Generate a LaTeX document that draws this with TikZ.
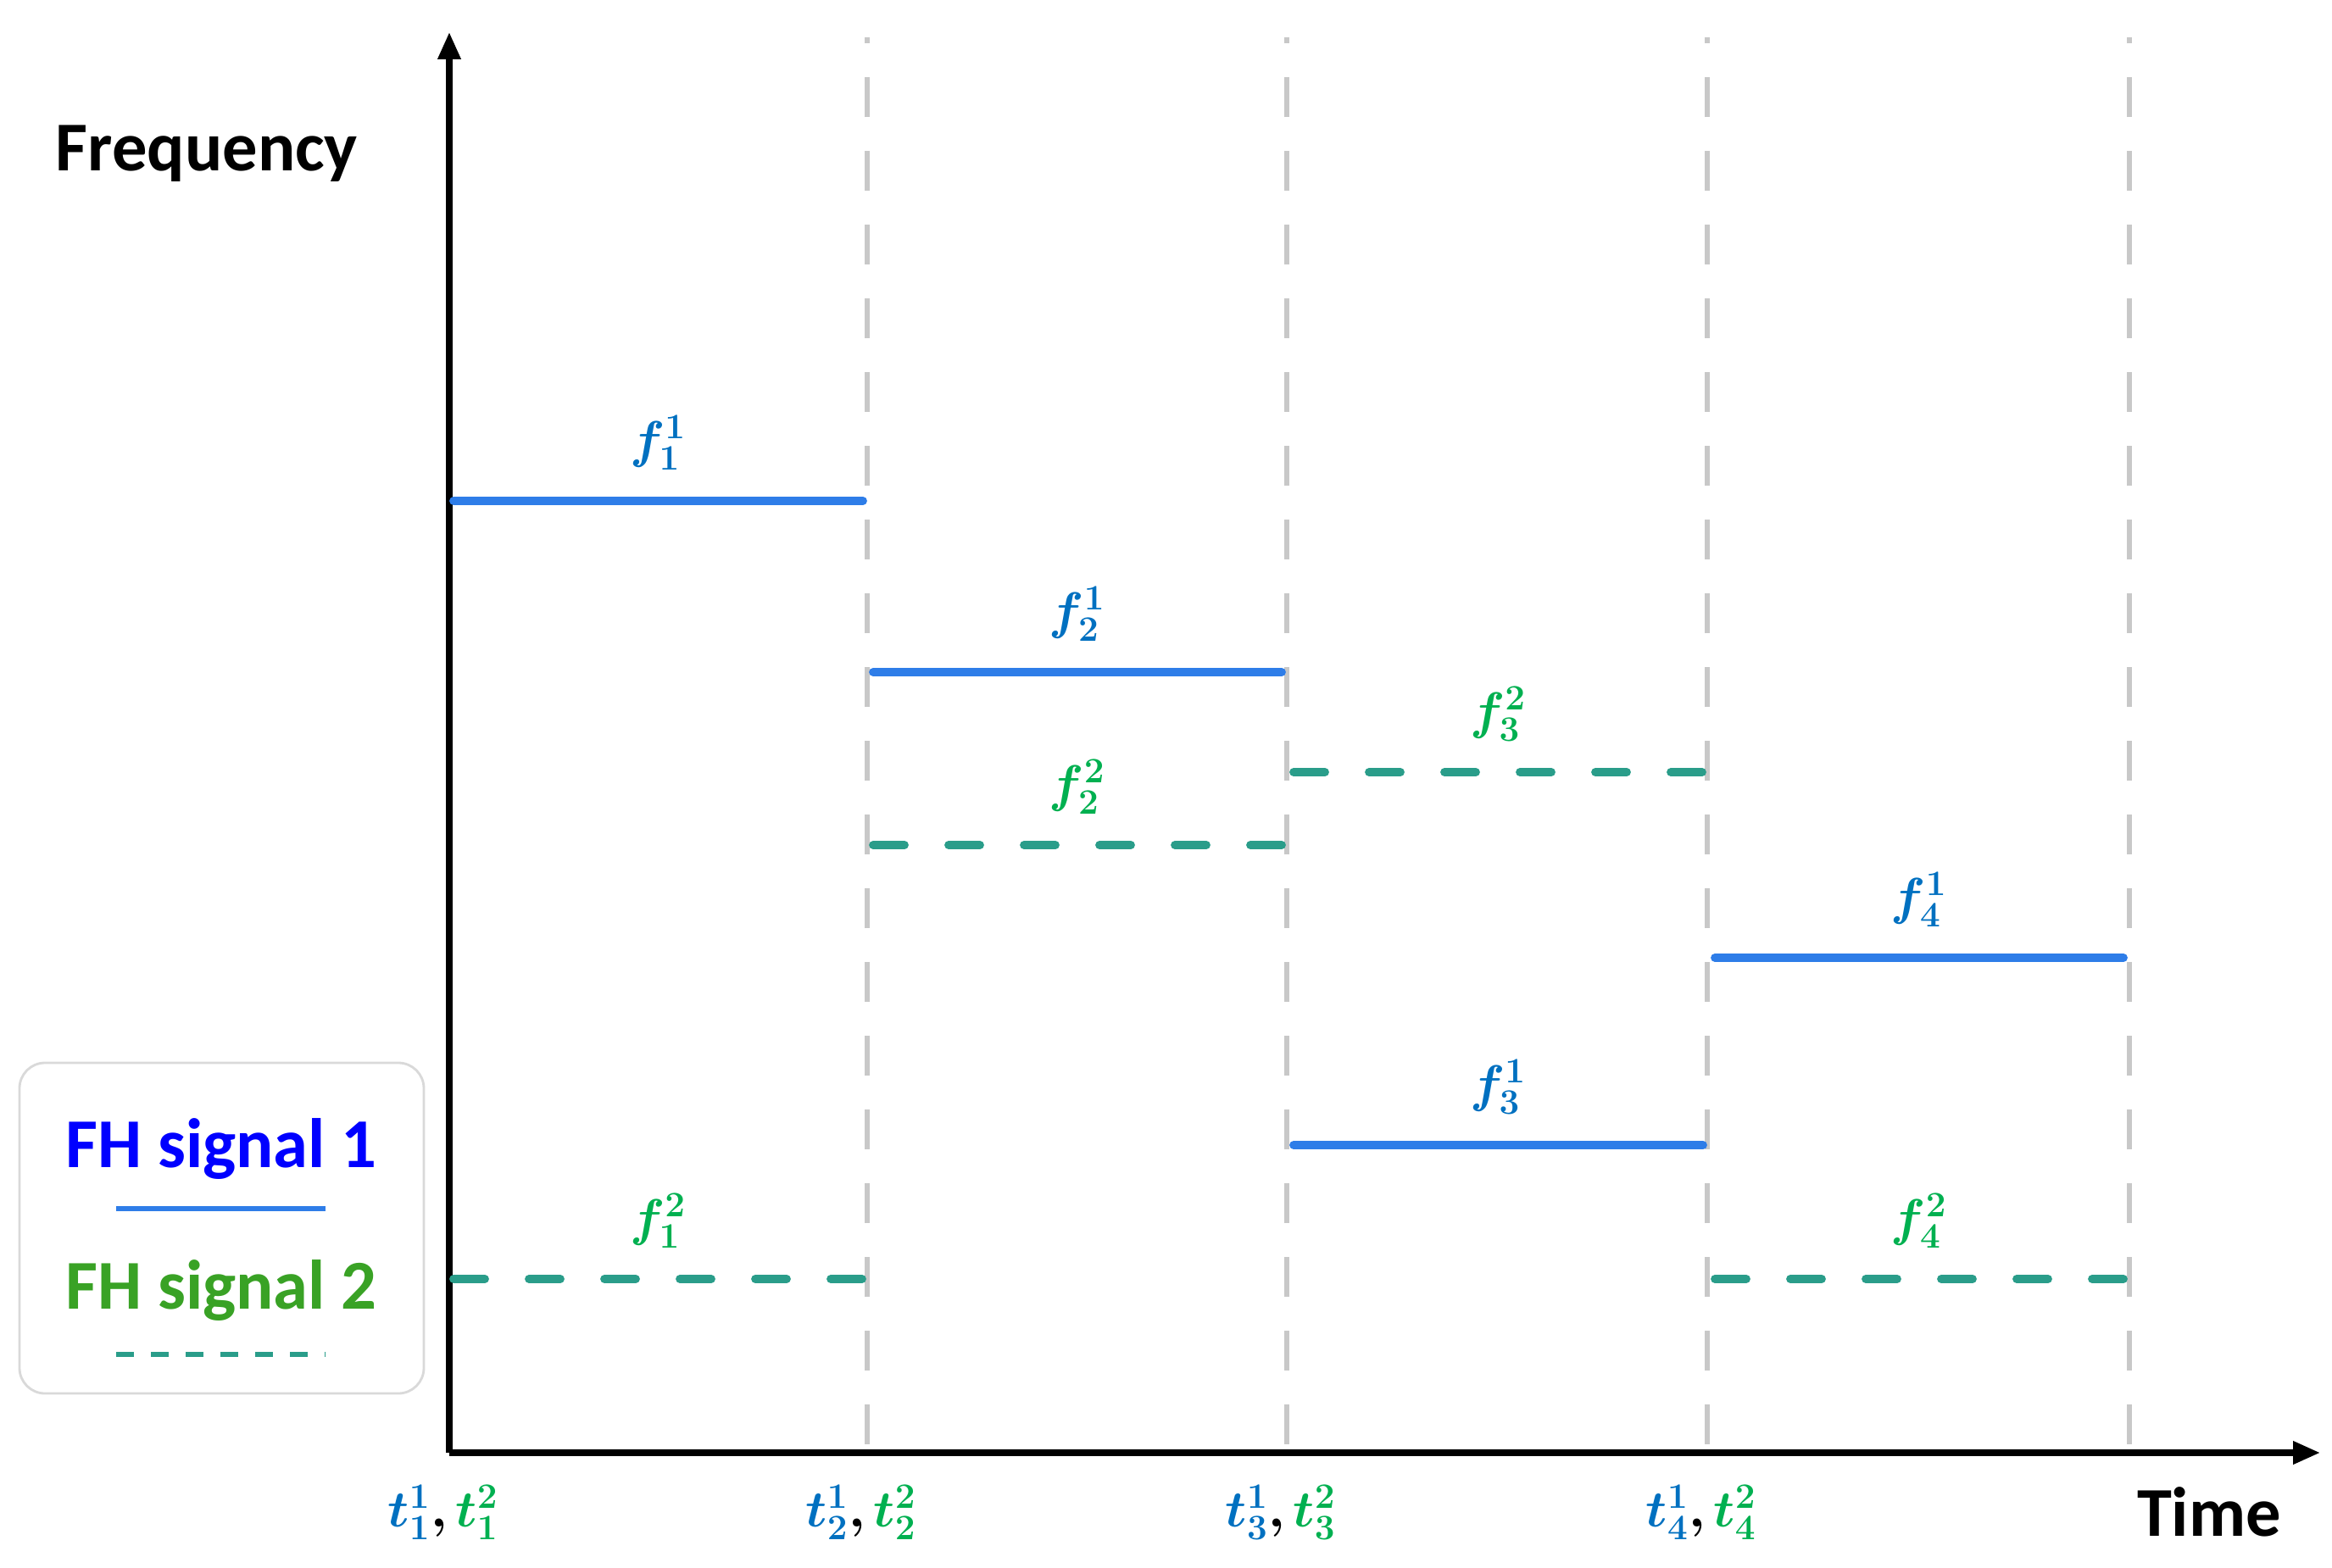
\documentclass[tikz,border=0pt]{standalone}
\usepackage{amsmath}
\usepackage{bm}
\usepackage{fontspec}
\newfontfamily\calibri{Carlito}
\usetikzlibrary{arrows.meta, positioning, calc}
\definecolor{cLine}{RGB}{46,125,232}
\definecolor{cBlue}{RGB}{0,112,192}
\definecolor{cGreen}{RGB}{0,176,80}
\definecolor{cTeal}{RGB}{42,157,138}
\definecolor{cLegBlue}{RGB}{0,0,255}
\definecolor{cLegGreen}{RGB}{57,162,37}
\definecolor{cGrid}{RGB}{200,200,200}
\newcommand{\tpair}[1]{\textcolor{cBlue}{$\bm{t_{#1}^{1}}$}$\bm{,}$\,\textcolor{cGreen}{$\bm{t_{#1}^{2}}$}}
\tikzset{
	axisline/.style={line width=2pt, -{Triangle[length=0.32cm, width=0.26cm]}},
	slot/.style     ={cGrid, line width=1.8pt, dash pattern=on 0.47cm off 0.40cm},
	hopone/.style   ={cLine, line width=2.8pt, line cap=round},
	hoptwo/.style   ={cTeal, line width=2.8pt, line cap=round, dash pattern=on 0.37cm off 0.52cm},
	flab/.style     ={font=\fontsize{16.5}{18}\selectfont, inner sep=1pt, above=0.28cm},
	tlab/.style     ={font=\fontsize{16.5}{18}\selectfont, inner sep=0pt},
	axlab/.style    ={font=\calibri\bfseries\fontsize{23.5}{27}\selectfont, inner sep=0pt},
	legbox/.style   ={draw=black!15, line width=0.8pt, rounded corners=0.3cm, fill=white},
}

\begin{document}
\begin{tikzpicture}
	\useasboundingbox (0,0) rectangle (27.51,18.49);
	% time slots
	\foreach \x [count=\i] in {10.23,15.18,20.14,25.12}
		\draw[slot] (\x,1.45) coordinate (g\i) -- (\x,18.05);
	% axes
	\coordinate (O) at (5.30,1.35);
	\draw[axisline] (O) -- (5.30,18.11);
	\draw[axisline] (O) -- (27.37,1.35);
	\node[axlab] (freq) at (2.44,16.68) {Frequency};
	\node[axlab] (time) at (26.06,0.65) {Time};
	% hop labels on the time axis
	\node[tlab] (tl1) at (5.23,0.65) {\tpair{1}};
	\node[tlab] (tl2) at (10.16,0.65) {\tpair{2}};
	\node[tlab] (tl3) at (15.11,0.65) {\tpair{3}};
	\node[tlab] (tl4) at (20.07,0.65) {\tpair{4}};
	% FH signal 1
	\draw[hopone] (5.35,12.58) -- node[flab, text=cBlue] (f11) {$\bm{f_1^1}$} (10.18,12.58);
	\draw[hopone] (10.30,10.56) -- node[flab, text=cBlue] (f21) {$\bm{f_2^1}$} (15.12,10.56);
	\draw[hopone] (15.26,4.98) -- node[flab, text=cBlue] (f31) {$\bm{f_3^1}$} (20.09,4.98);
	\draw[hopone] (20.23,7.19) -- node[flab, text=cBlue] (f41) {$\bm{f_4^1}$} (25.05,7.19);
	% FH signal 2
	\draw[hoptwo] (5.35,3.40) -- node[flab, text=cGreen] (f12) {$\bm{f_1^2}$} (10.18,3.40);
	\draw[hoptwo] (10.30,8.52) -- node[flab, text=cGreen] (f22) {$\bm{f_2^2}$} (15.12,8.52);
	\draw[hoptwo] (15.26,9.38) -- node[flab, text=cGreen] (f32) {$\bm{f_3^2}$} (20.09,9.38);
	\draw[hoptwo] (20.23,3.40) -- node[flab, text=cGreen] (f42) {$\bm{f_4^2}$} (25.05,3.40);
	% legend
	\node[legbox, minimum width=4.77cm, minimum height=3.90cm] (leg) at (2.615,4.00) {};
	\node[axlab, text=cLegBlue] (s1) at (2.61,4.93) {FH signal 1};
	\node[axlab, text=cLegGreen] (s2) at (2.61,3.26) {FH signal 2};
	\draw[cLine, line width=1.8pt] (1.37,4.23) -- (3.84,4.23);
	\draw[cTeal, line width=1.6pt, dash pattern=on 0.21cm off 0.20cm] (1.37,2.51) -- (3.84,2.51);
\end{tikzpicture}
\end{document}
